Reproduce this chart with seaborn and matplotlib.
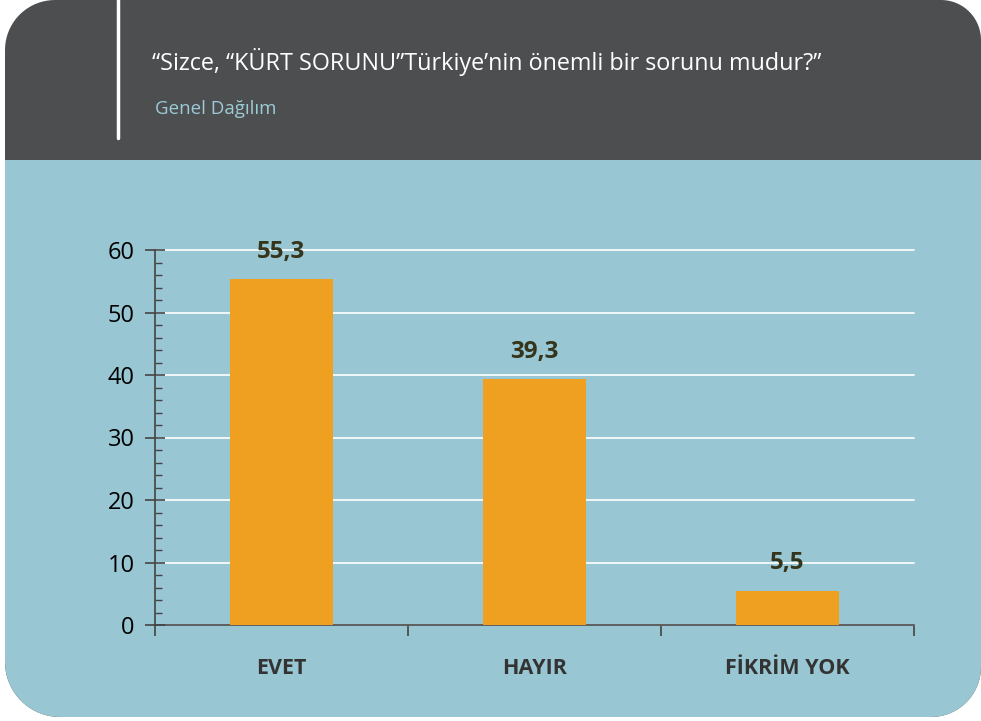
import numpy as np
import matplotlib
matplotlib.use("Agg")
import matplotlib.pyplot as plt
from matplotlib.patches import Polygon
from matplotlib.ticker import MultipleLocator
import seaborn as sns
import pandas as pd

# ---- data ----
categories = ["EVET", "HAYIR", "FİKRİM YOK"]
values = [55.3, 39.3, 5.5]
yticks = [0, 10, 20, 30, 40, 50, 60]
title = "“Sizce, “KÜRT SORUNU”Türkiye’nin önemli bir sorunu mudur?”"
subtitle = "Genel Dağılım"

HEADER = "#4d4e50"
BODY = "#98c6d2"
BAR = "#f0a020"

sns.set_style("white")
plt.rcParams["font.family"] = ["Open Sans", "DejaVu Sans"]

W, H = 981, 721
fig = plt.figure(figsize=(W / 100, H / 100), dpi=100)
fig.patch.set_facecolor("white")


def rounded(x0, y0, x1, y1, r):
    # r = (top-left, top-right, bottom-right, bottom-left), y grows downward
    pts = []
    t = np.linspace(0, np.pi / 2, 20)
    tl, tr, br, bl = r
    pts += list(zip(x0 + tl - tl * np.cos(t), y0 + tl - tl * np.sin(t)))
    pts += list(zip(x1 - tr + tr * np.sin(t), y0 + tr - tr * np.cos(t)))
    pts += list(zip(x1 - br + br * np.cos(t), y1 - br + br * np.sin(t)))
    pts += list(zip(x0 + bl - bl * np.sin(t), y1 - bl + bl * np.cos(t)))
    return np.array(pts)


bg = fig.add_axes([0, 0, 1, 1])
bg.set_xlim(0, W)
bg.set_ylim(H, 0)
bg.axis("off")
bg.add_patch(Polygon(rounded(5, 0, 981, 717, (50, 40, 50, 55)), closed=True,
                     facecolor=HEADER, edgecolor="none"))
bg.add_patch(Polygon(rounded(5, 160, 981, 717, (0, 0, 50, 55)), closed=True,
                     facecolor=BODY, edgecolor="none"))
bg.plot([118, 118], [0, 138], color="white", lw=2.5)
bg.text(152, 62, title, color="white", fontsize=16.8, va="center", ha="left")
bg.text(155, 109, subtitle, color="#9ccbd6", fontsize=13.5, va="center", ha="left")

# ---- chart ----
ax = fig.add_axes([155 / W, 96 / H, (914 - 155) / W, 375 / H])
ax.set_facecolor("none")
df = pd.DataFrame({"cat": categories, "val": values})
sns.barplot(data=df, x="cat", y="val", color=BAR, width=0.41, saturation=1,
            edgecolor="none", linewidth=0, ax=ax, zorder=3)

ax.set_xlim(-0.5, 2.5)
ax.set_ylim(0, 60)
ax.set_xlabel("")
ax.set_ylabel("")

ax.set_yticks(yticks)
ax.set_yticklabels([str(v) for v in yticks], fontsize=17, color="black")
ax.yaxis.set_minor_locator(MultipleLocator(2))
ax.tick_params(axis="y", which="major", left=True, direction="inout", length=15,
               width=1.2, color="#444444", pad=7)
ax.tick_params(axis="y", which="minor", left=True, direction="in", length=5, width=1,
               color="#444444")

ax.set_xticks([-0.5, 0.5, 1.5, 2.5])
ax.set_xticklabels([])
ax.set_xticks([0, 1, 2], minor=True)
ax.set_xticklabels(categories, minor=True, fontsize=15.5, fontweight="bold", color="#333333")
ax.tick_params(axis="x", which="major", bottom=True, direction="out", length=8,
               width=1.2, color="#444444")
ax.tick_params(axis="x", which="minor", bottom=True, length=0, pad=24)

ax.grid(axis="y", which="major", color="white", lw=1.2, zorder=0)
for gl in ax.get_ygridlines():
    gl.set_clip_on(False)
ax.set_axisbelow(True)

for s in ["top", "right"]:
    ax.spines[s].set_visible(False)
for s in ["left", "bottom"]:
    ax.spines[s].set_color("#444444")
    ax.spines[s].set_linewidth(1.2)

ax.bar_label(ax.containers[0], labels=[f"{v:.1f}".replace(".", ",") for v in values],
             padding=11, fontsize=17.5, fontweight="bold", color="#34351c")

fig.savefig("out.png", dpi=100, facecolor="white")
